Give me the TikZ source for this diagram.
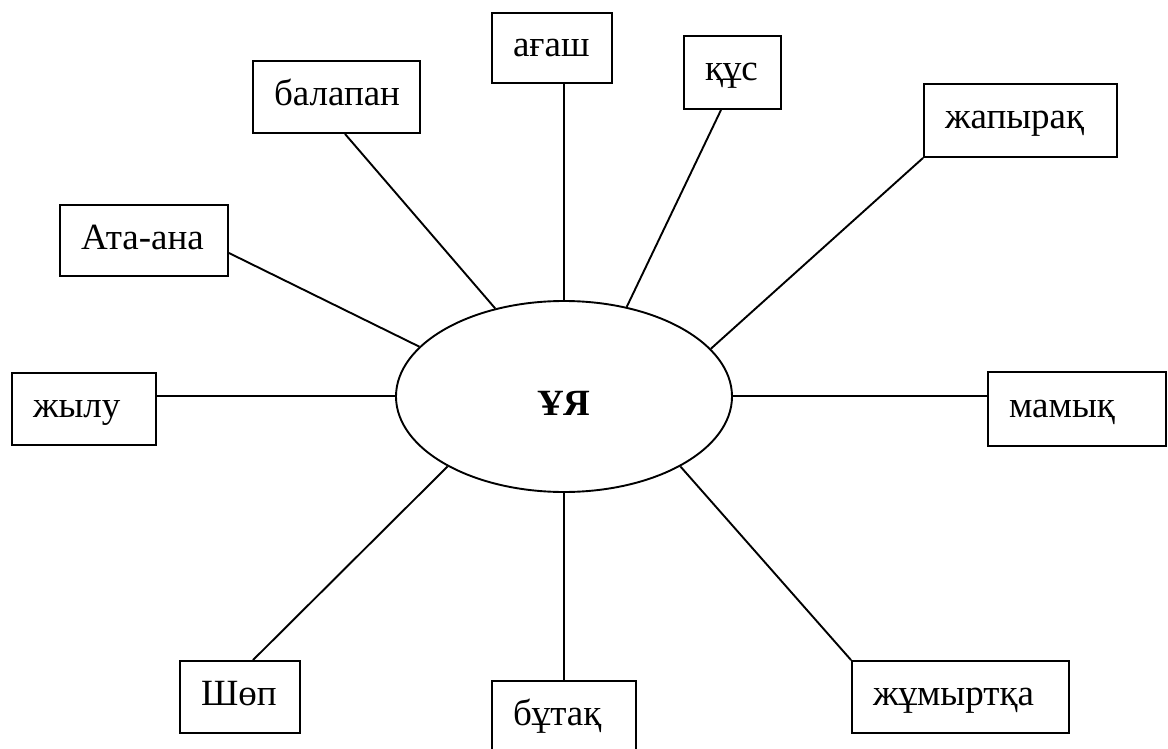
\documentclass[tikz,border=0pt]{standalone}
\usepackage{fontspec}
\setmainfont{Liberation Serif}
\usetikzlibrary{shapes.geometric}
\tikzset{
  kbox/.style={draw, rectangle, line width=1.9pt, inner xsep=21pt, inner ysep=0pt,
    align=left, text height=17pt, text depth=0pt, font=\fontsize{37}{44}\selectfont},
  nest/.style={draw, ellipse, line width=1.9pt, inner sep=0pt,
    text height=37pt, text depth=0pt,
    minimum width=336pt, minimum height=191pt, font=\fontsize{37}{44}\selectfont\bfseries},
  link/.style={line width=1.9pt}
}
\begin{document}
\begin{tikzpicture}[x=1pt,y=-1pt]
\useasboundingbox (0,0) rectangle (1168,749);
\node[nest] (nest) at (564,396.5) {ҰЯ};
\coordinate (lh) at (564,396);
\node[kbox, minimum width=167pt, minimum height=72pt, text width=125pt] (bal) at (336.5,97) {балапан};
\node[kbox, minimum width=120pt, minimum height=70pt, text width=78pt] (aga) at (552,48) {ағаш};
\node[kbox, minimum width=97pt, minimum height=73pt, text width=55pt] (kus) at (732.5,72.5) {құс};
\node[kbox, minimum width=193pt, minimum height=73pt, text width=151pt] (zhap) at (1020.5,120.5) {жапырақ};
\node[kbox, minimum width=168pt, minimum height=71pt, text width=126pt] (ata) at (144,240.5) {Ата-ана};
\node[kbox, minimum width=144pt, minimum height=72pt, text width=102pt] (zhylu) at (84,409) {жылу};
\node[kbox, minimum width=178pt, minimum height=74pt, text width=136pt] (mamyk) at (1077,409) {мамық};
\node[kbox, minimum width=120pt, minimum height=72pt, text width=78pt] (shop) at (240,697) {Шөп};
\node[kbox, minimum width=144pt, minimum height=71pt, text width=102pt] (butak) at (564,716.5) {бұтақ};
\node[kbox, minimum width=217pt, minimum height=72pt, text width=175pt] (zhum) at (960.5,697) {жұмыртқа};

\draw[link] ([xshift=8.5pt]bal.south) -- (nest.128.2);
\draw[link] (nest.north |- aga.south) -- (nest.north);
\draw[link] ([xshift=-11.5pt]kus.south) -- (nest.55.5);
\draw[link] (zhap.south west) -- (nest.18.5);
\draw[link] ([yshift=-12.5pt]ata.east) -- (nest.161.6);
\draw[link] (lh -| zhylu.east) -- (lh -| nest.west);
\draw[link] (lh -| nest.east) -- (lh -| mamyk.west);
\draw[link] ([xshift=13pt]shop.north) -- (nest.211);
\draw[link] (nest.south) -- (nest.south |- butak.north);
\draw[link] (zhum.north west) -- (nest.329.2);
\end{tikzpicture}
\end{document}
